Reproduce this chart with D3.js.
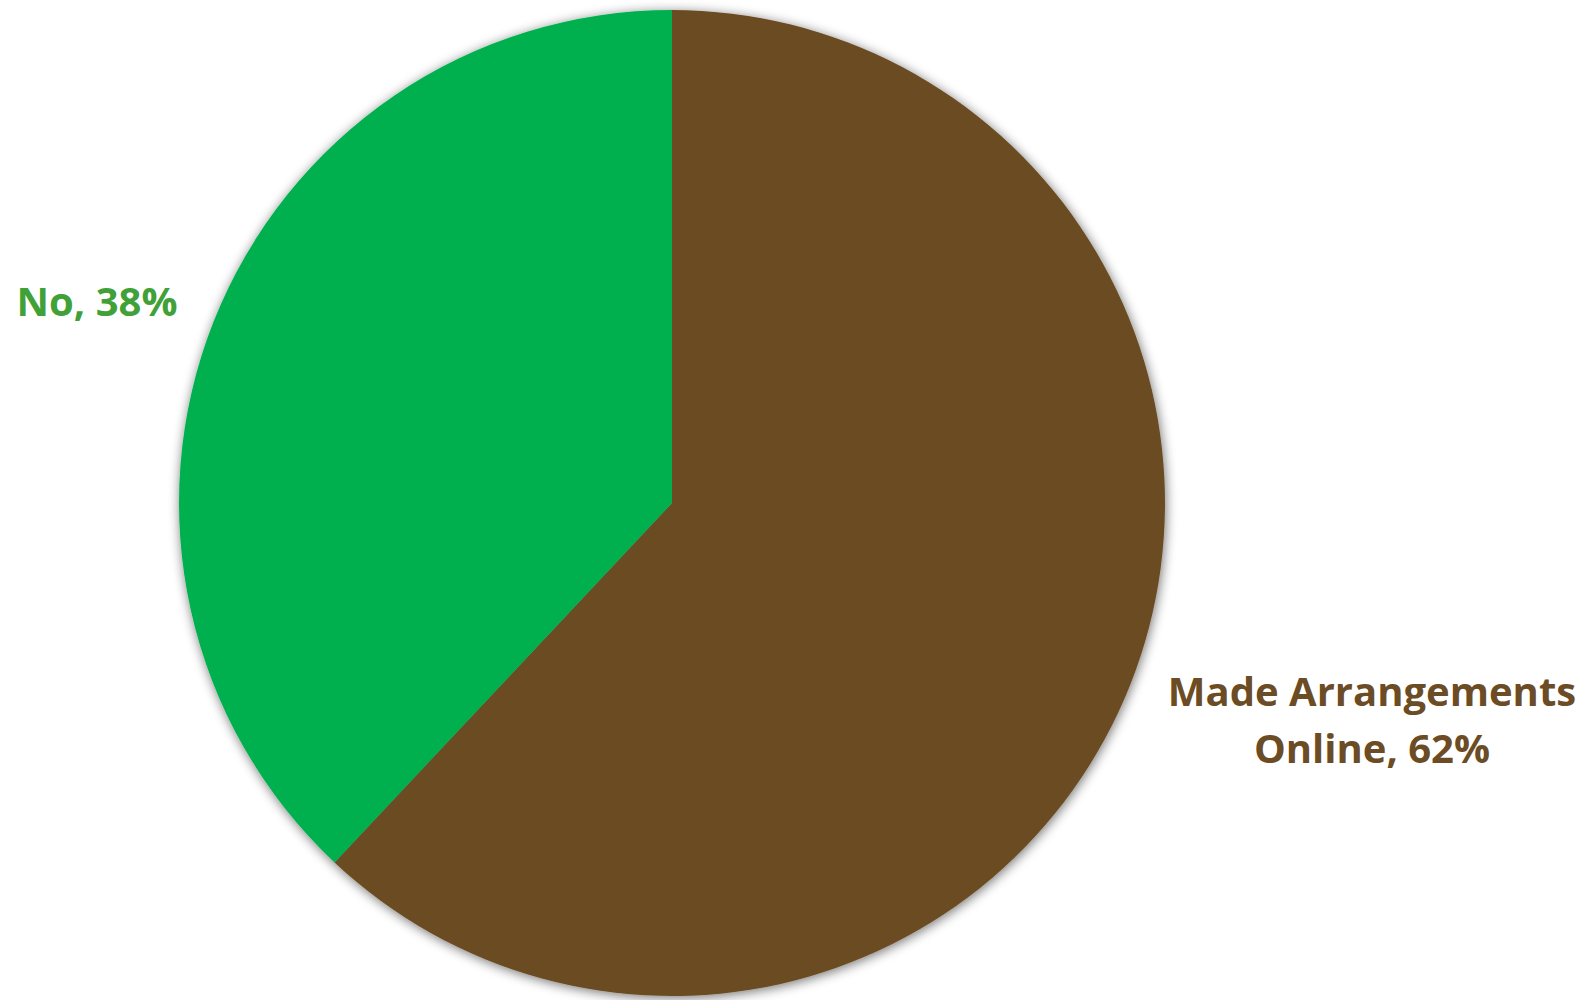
<!DOCTYPE html>
<html>
<head>
<meta charset="utf-8">
<script src="https://cdn.jsdelivr.net/npm/d3@7"></script>
<style>
  body { margin: 0; background: #fff; }
  svg { display: block; }
</style>
</head>
<body>
<svg id="chart"></svg>
<script>
// Slice data
const categories = ["Made Arrangements Online", "No"];
const values = [62, 38];
const labelLines = [["Made Arrangements", "Online, 62%"], ["No, 38%"]];

const width = 1589, height = 1000;
const cx = 672, cy = 503, radius = 493;

const sliceColor = d3.scaleOrdinal().domain(categories).range(["#6b4c24", "#00b050"]);
const labelColor = d3.scaleOrdinal().domain(categories).range(["#6b4c24", "#3fa137"]);

const svg = d3.select("#chart")
    .attr("width", width)
    .attr("height", height);

// Soft shadow round the pie
const defs = svg.append("defs");
const filter = defs.append("filter")
    .attr("id", "shadow")
    .attr("x", "-10%").attr("y", "-10%")
    .attr("width", "120%").attr("height", "120%");
filter.append("feGaussianBlur")
    .attr("in", "SourceAlpha")
    .attr("stdDeviation", 6)
    .attr("result", "blur");
filter.append("feOffset")
    .attr("in", "blur").attr("dx", 1).attr("dy", 2)
    .attr("result", "off");
filter.append("feComponentTransfer")
    .attr("in", "off").attr("result", "soft")
  .append("feFuncA").attr("type", "linear").attr("slope", 0.55);
const merge = filter.append("feMerge");
merge.append("feMergeNode").attr("in", "soft");
merge.append("feMergeNode").attr("in", "SourceGraphic");

const pie = d3.pie().sort(null).value(d => d.value);
const arcs = pie(categories.map((c, i) => ({ name: c, value: values[i] })));

const arc = d3.arc().innerRadius(0).outerRadius(radius);

const g = svg.append("g")
    .attr("transform", `translate(${cx},${cy})`)
    .attr("filter", "url(#shadow)");

g.selectAll("path")
  .data(arcs)
  .enter()
  .append("path")
    .attr("d", arc)
    .attr("fill", d => sliceColor(d.data.name));

// Data labels
const labelPos = [[1372, 706], [97, 316]];
const lineGap = 57;

arcs.forEach((d, i) => {
    const lines = labelLines[i];
    const t = svg.append("text")
        .attr("x", labelPos[i][0])
        .attr("y", labelPos[i][1])
        .attr("text-anchor", "middle")
        .style("font-family", "'Open Sans', 'Liberation Sans', sans-serif")
        .style("font-weight", "bold")
        .style("font-size", "40px")
        .attr("fill", labelColor(d.data.name));
    lines.forEach((line, j) => {
        t.append("tspan")
            .attr("x", labelPos[i][0])
            .attr("dy", j === 0 ? 0 : lineGap)
            .text(line);
    });
});
</script>
</body>
</html>
